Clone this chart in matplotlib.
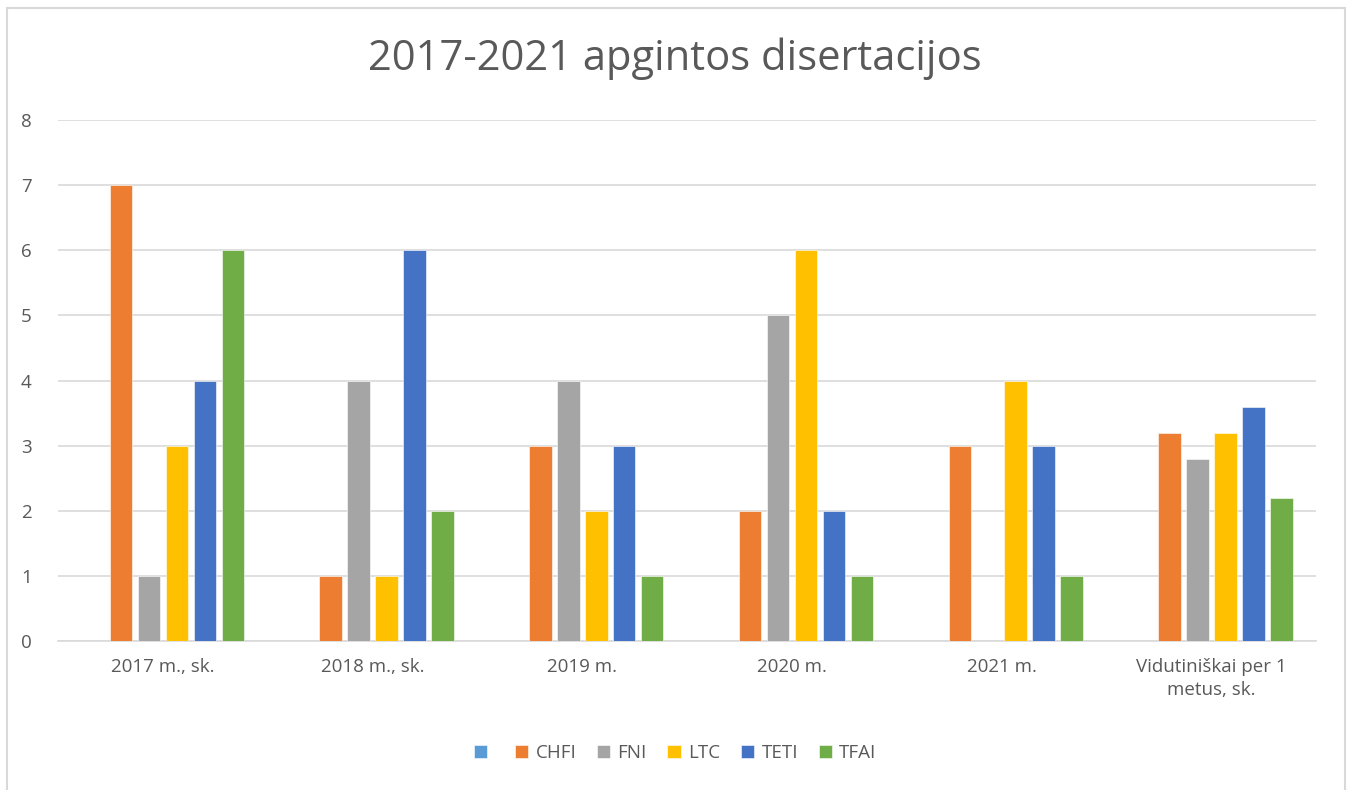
import numpy as np
import matplotlib.pyplot as plt
from matplotlib.patches import Rectangle

plt.rcParams['font.family'] = ['Open Sans', 'DejaVu Sans']

categories = ['2017 m., sk.', '2018 m., sk.', '2019 m.', '2020 m.', '2021 m.',
              'Vidutiniškai per 1\nmetus, sk.']
series_names = ['', 'CHFI', 'FNI', 'LTC', 'TETI', 'TFAI']
blank = [0, 0, 0, 0, 0, 0]
chfi = [7, 1, 3, 2, 3, 3.2]
fni = [1, 4, 4, 5, 0, 2.8]
ltc = [3, 1, 2, 6, 4, 3.2]
teti = [4, 6, 3, 2, 3, 3.6]
tfai = [6, 2, 1, 1, 1, 2.2]
colors = ['#5B9BD5', '#ED7D31', '#A5A5A5', '#FFC000', '#4472C4', '#70AD47']

values = [blank, chfi, fni, ltc, teti, tfai]

fig = plt.figure(figsize=(13.5, 7.9), dpi=100)
ax = fig.add_axes([0.043, 0.1886, 0.932, 0.6595])

ind = np.arange(len(categories))
slot = 28 / 210
width = 22.5 / 210
handles = []
for i, (vals, name, c) in enumerate(zip(values, series_names, colors)):
    off = (i - 2.5) * slot
    b = ax.bar(ind + off, vals, width, color=c, label=name, zorder=3,
               edgecolor='white', linewidth=0.4)
    handles.append(b)

ax.set_xlim(-0.5, len(categories) - 0.5)
ax.set_ylim(0, 8)
ax.set_yticks(range(0, 9))
ax.grid(axis='y', color='#D9D9D9', linewidth=1.2, zorder=0)
for s in ['top', 'right', 'left']:
    ax.spines[s].set_visible(False)
ax.spines['bottom'].set_color('#D9D9D9')
ax.spines['bottom'].set_linewidth(1.2)
ax.tick_params(axis='both', length=0, labelsize=13.5, labelcolor='#595959')
ax.tick_params(axis='y', pad=19)
ax.tick_params(axis='x', pad=12)
ax.set_xticks(ind)
ax.set_xticklabels(categories, linespacing=1.35)

fig.text(0.5, 0.926, '2017-2021 apgintos disertacijos', ha='center', va='center',
         fontsize=30, color='#595959')

fig.legend(handles=handles, labels=series_names, loc='center', ncol=6,
           bbox_to_anchor=(0.5, 0.047), frameon=False, fontsize=13.5,
           labelcolor='#595959', handlelength=0.7, handleheight=0.7,
           handletextpad=0.4, columnspacing=1.1)

fig.patches.append(Rectangle((7 / 1350, -0.1), 1338 / 1350, 1.1 - 8 / 790,
                             transform=fig.transFigure, fill=False,
                             edgecolor='#D9D9D9', linewidth=1.5))

fig.savefig('out.png', dpi=100)
